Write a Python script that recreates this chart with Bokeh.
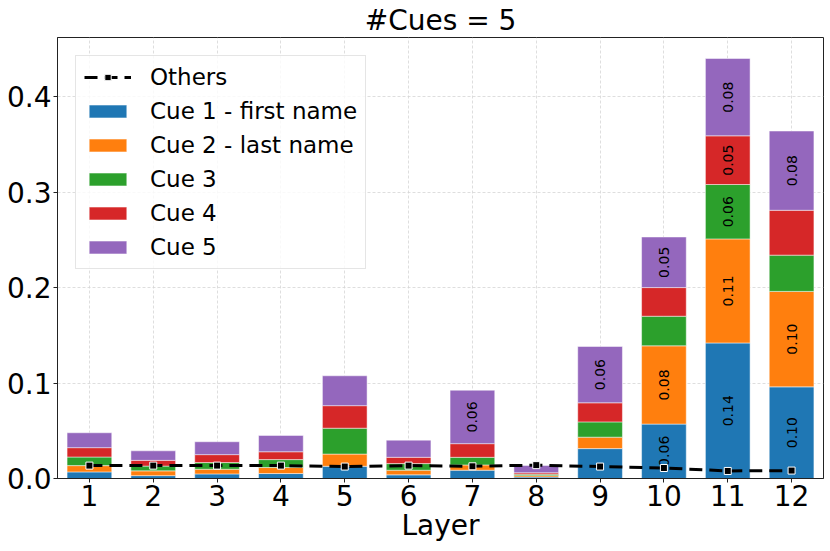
import math
from bokeh.plotting import figure
from bokeh.models import ColumnDataSource, Legend, LegendItem, FixedTicker, Range1d
from bokeh.embed import file_html
from bokeh.resources import INLINE
from bokeh.core.properties import value

layers = [1, 2, 3, 4, 5, 6, 7, 8, 9, 10, 11, 12]
cue1 = [0.0069, 0.0030, 0.0048, 0.0052, 0.0128, 0.0038, 0.0087, 0.0015, 0.0313, 0.0570, 0.1420, 0.0960]
cue2 = [0.0066, 0.0050, 0.0049, 0.0063, 0.0128, 0.0049, 0.0055, 0.0015, 0.0120, 0.0820, 0.1090, 0.1000]
cue3 = [0.0090, 0.0050, 0.0070, 0.0083, 0.0271, 0.0069, 0.0080, 0.0015, 0.0160, 0.0310, 0.0570, 0.0380]
cue4 = [0.0098, 0.0060, 0.0083, 0.0082, 0.0236, 0.0066, 0.0143, 0.0015, 0.0200, 0.0300, 0.0510, 0.0470]
cue5 = [0.0156, 0.0100, 0.0135, 0.0171, 0.0313, 0.0180, 0.0560, 0.0076, 0.0590, 0.0530, 0.0810, 0.0830]
others = [0.0135, 0.0135, 0.0135, 0.0135, 0.0125, 0.0135, 0.0128, 0.0140, 0.0125, 0.0110, 0.0079, 0.0083]

series_names = ["Cue 1 - first name", "Cue 2 - last name", "Cue 3", "Cue 4", "Cue 5"]
colors = ["#1f77b4", "#ff7f0e", "#2ca02c", "#d62728", "#9467bd"]
y_ticks = [0.0, 0.1, 0.2, 0.3, 0.4]
y_tick_labels = ["0.0", "0.1", "0.2", "0.3", "0.4"]
title_text = "#Cues = 5"
x_label = "Layer"
others_label = "Others"
label_threshold = 0.05

FONT = "DejaVu Sans"
INK = "black"

series = [cue1, cue2, cue3, cue4, cue5]
keys = ["c1", "c2", "c3", "c4", "c5"]
data = {"layer": layers}
for k, s in zip(keys, series):
    data[k] = s
source = ColumnDataSource(data)

totals = [sum(vals) for vals in zip(*series)]
ymax = max(totals) * 1.05

p = figure(width=830, height=551, output_backend="svg", toolbar_location=None,
           x_range=Range1d(0.5, 12.5), y_range=Range1d(0, ymax),
           min_border_left=57, min_border_right=7, min_border_top=35, min_border_bottom=73)

bars = p.vbar_stack(keys, x="layer", width=0.7, source=source, color=colors,
                    line_color="white", line_width=0.8, line_alpha=0.6)

# value labels inside segments
lx, ly, lt = [], [], []
for i, layer in enumerate(layers):
    bottom = 0.0
    for s in series:
        v = s[i]
        if v >= label_threshold:
            lx.append(layer)
            ly.append(bottom + v / 2)
            lt.append(f"{v:.2f}")
        bottom += v
p.text(x=lx, y=ly, text=lt, angle=math.pi / 2, text_align="center", text_baseline="middle",
       text_font=value(FONT), text_font_size="14px", text_color=INK)

r_line = p.line(layers, others, line_color="black", line_width=3, line_dash="13 7")
r_sc = p.scatter(layers, others, marker="square", size=7, fill_color="black",
                 line_color="white", line_width=1)

items = [LegendItem(label=others_label, renderers=[r_line, r_sc])]
for name, r in zip(series_names, bars):
    items.append(LegendItem(label=name, renderers=[r]))
legend = Legend(items=items, location="top_left", margin=18)
legend.label_text_font = FONT
legend.label_text_font_size = "23px"
legend.label_text_color = INK
legend.glyph_width = 47
legend.glyph_height = 16
legend.label_standoff = 19
legend.spacing = 8
legend.padding = 8
legend.border_line_color = "#cccccc"
legend.border_line_width = 1
legend.background_fill_color = "white"
legend.background_fill_alpha = 0.8
p.add_layout(legend)

p.title.text = title_text
p.title.text_font = FONT
p.title.text_font_size = "28px"
p.title.text_font_style = "normal"
p.title.text_color = INK
p.title.align = "center"
p.title.standoff = 2

p.xaxis.ticker = FixedTicker(ticks=layers)
p.yaxis.ticker = FixedTicker(ticks=y_ticks)
p.yaxis.major_label_overrides = {t: l for t, l in zip(y_ticks, y_tick_labels)}
p.xaxis.axis_label = x_label
for ax in (p.xaxis, p.yaxis):
    ax.major_label_text_font = FONT
    ax.major_label_text_font_size = "28px"
    ax.major_label_text_color = INK
    ax.axis_label_text_font = FONT
    ax.axis_label_text_font_size = "28px"
    ax.axis_label_text_font_style = "normal"
    ax.axis_label_text_color = INK
    ax.major_tick_in = 0
    ax.major_tick_out = 4
    ax.minor_tick_line_color = None
    ax.axis_line_color = "#222222"
    ax.major_tick_line_color = "#222222"
    ax.major_label_standoff = 2
p.xaxis.axis_label_standoff = 0

p.xgrid.grid_line_color = "#d6d6d6"
p.ygrid.grid_line_color = "#d6d6d6"
p.xgrid.grid_line_dash = "3 2"
p.ygrid.grid_line_dash = "3 2"
p.xgrid.grid_line_width = 0.8
p.ygrid.grid_line_width = 0.8
p.outline_line_color = "#222222"
p.outline_line_width = 1

open("out.html", "w").write(file_html(p, INLINE))
